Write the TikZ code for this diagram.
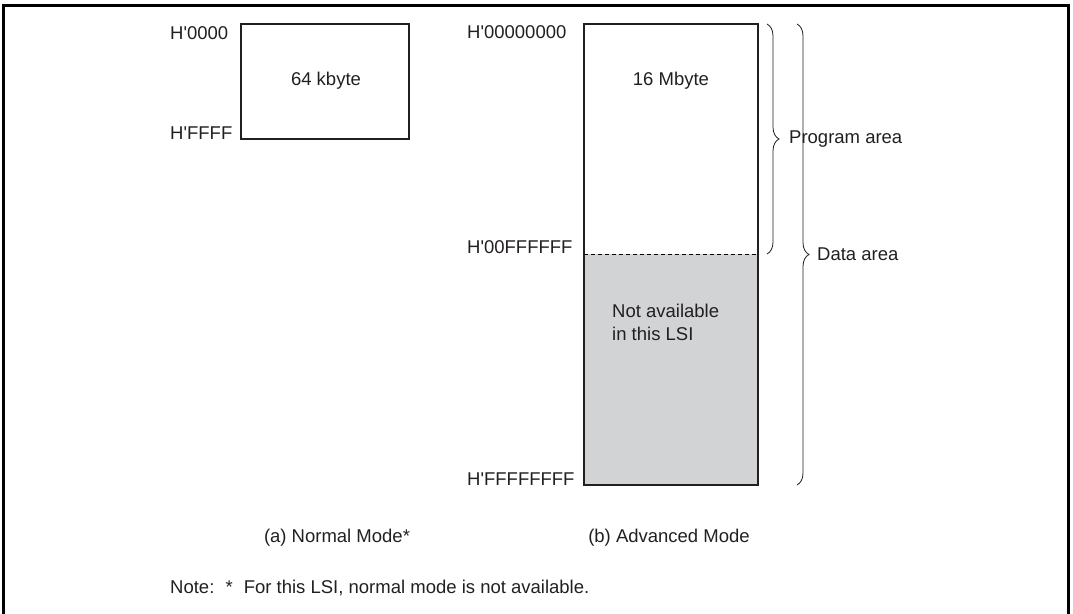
\documentclass[tikz,border=0pt]{standalone}
\usepackage{fontspec}
\setmainfont{Liberation Sans}[Ligatures=TeXOff]
\usetikzlibrary{positioning,decorations.pathreplacing}
\definecolor{boxline}{HTML}{231F20}
\definecolor{nafill}{HTML}{D1D3D4}

\begin{document}
\begin{tikzpicture}[x=1pt, y=-1pt,
  every node/.style={font=\fontsize{18.5}{23}\selectfont, inner sep=0pt, text=boxline},
  addr/.style={anchor=base west},
  caption/.style={anchor=base},
  membox/.style={draw=boxline, line width=2pt},
  span/.style={draw=boxline, line width=0.8pt, decorate,
               decoration={brace, amplitude=12pt}}]
\useasboundingbox (0,0) rectangle (1073,613);
\draw[line width=3pt] (3,5) rectangle (1068,640);

% (a) normal mode
\coordinate (n-top) at (241,24);
\coordinate (n-bot) at (409,139);
\draw[membox] (n-top) rectangle (n-bot);
\node (n-size) at (326,81) {64 kbyte};
\node[addr] (n-first) at (170,39) {H'0000};
\node[addr] (n-last) at (170,139) {H'FFFF};
\node[caption] (n-cap) at (337,542) {(a) Normal Mode*};

% (b) advanced mode
\coordinate (a-top) at (584,24);
\coordinate (a-left) at (584,254);
\coordinate (a-mid) at (758,254);
\coordinate (a-bot) at (758,485);
\fill[nafill] (a-left) rectangle (a-bot);
\draw[dashed, line width=0.8pt, dash pattern=on 4pt off 3pt] (a-left) -- (a-mid);
\draw[membox] (a-top) rectangle (a-bot);
\node (a-size) at (671,81) {16 Mbyte};
\node[anchor=north west, align=left] (a-na) at (612,304) {Not available\\in this LSI};
\node[addr] (a-first) at (467,38) {H'00000000};
\node[addr] (a-brk) at (467,253) {H'00FFFFFF};
\node[addr] (a-last) at (467,485) {H'FFFFFFFF};
\node[caption] (a-cap) at (669,542) {(b) Advanced Mode};

% program / data area
\coordinate (p-top) at (767,24);
\coordinate (p-bot) at (767,254);
\coordinate (d-top) at (797,24);
\coordinate (d-bot) at (797,485);
\draw[span] (p-top) -- (p-bot);
\draw[span] (d-top) -- (d-bot);
\path (p-top) -- (p-bot) coordinate[midway] (p-tip);
\path (d-top) -- (d-bot) coordinate[midway] (d-tip);
\node[right=22pt of p-tip] (prog) {Program area};
\node[right=20pt of d-tip] (data) {Data area};

\node[anchor=base west] (note) at (170,593)
  {Note:\hspace{0.6em}*\hspace{0.6em}For this LSI, normal mode is not available.};
\end{tikzpicture}
\end{document}
